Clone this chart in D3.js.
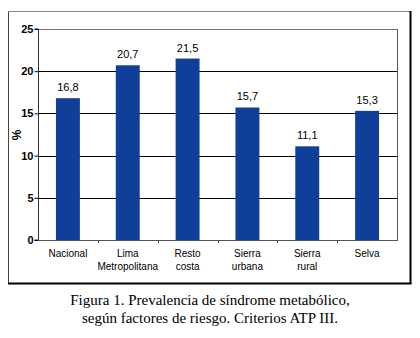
<!DOCTYPE html>
<html><head><meta charset="utf-8">
<script src="https://cdn.jsdelivr.net/npm/d3@7"></script>
<style>body{margin:0;background:#fff}svg{display:block}</style>
</head><body>
<svg id="c" width="420" height="338"></svg>
<script>
const categories = [["Nacional"],["Lima","Metropolitana"],["Resto","costa"],["Sierra","urbana"],["Sierra","rural"],["Selva"]];
const values = [16.8, 20.7, 21.5, 15.7, 11.1, 15.3];
const valueLabels = ["16,8","20,7","21,5","15,7","11,1","15,3"];
const yTicks = [0,5,10,15,20,25];
const caption = ["Figura 1. Prevalencia de síndrome metabólico,","según factores de riesgo. Criterios ATP III."];

const svg = d3.select("#c");
const L = 38, R = 397, T = 29, B = 240;
const x = d3.scaleBand().domain(d3.range(categories.length)).range([L, R]).paddingInner(0.6).paddingOuter(0.3);
const y = d3.scaleLinear().domain([0, 25]).range([B, T]);

// outer frame
svg.append("line").attr("x1",8.5).attr("x2",410).attr("y1",11.5).attr("y2",11.5).attr("stroke","#888");
svg.append("line").attr("x1",8.5).attr("x2",8.5).attr("y1",11.5).attr("y2",283).attr("stroke","#444");
svg.append("line").attr("x1",410.5).attr("x2",410.5).attr("y1",11).attr("y2",284).attr("stroke","#000").attr("stroke-width",2);
svg.append("line").attr("x1",8).attr("x2",411.5).attr("y1",283.5).attr("y2",283.5).attr("stroke","#000").attr("stroke-width",2);

// gridlines
svg.append("g").selectAll("line").data(yTicks.filter(d=>d>0)).join("line")
  .attr("x1",L).attr("x2",R).attr("y1",d=>Math.round(y(d))+0.5).attr("y2",d=>Math.round(y(d))+0.5)
  .attr("stroke",d=>d===25?"#777":"#000").attr("stroke-width",1);
// right border of plot
svg.append("line").attr("x1",R+0.5).attr("x2",R+0.5).attr("y1",T).attr("y2",B).attr("stroke","#555");

// bars
svg.append("g").selectAll("rect").data(values).join("rect")
  .attr("x",(d,i)=>x(i)).attr("width",x.bandwidth())
  .attr("y",d=>y(d)).attr("height",d=>B-y(d)).attr("fill","#0f3f98");

// value labels
svg.append("g").selectAll("text").data(values).join("text")
  .attr("x",(d,i)=>x(i)+x.bandwidth()/2).attr("y",d=>y(d)-7)
  .attr("text-anchor","middle").attr("font-family","Liberation Sans, Arial, sans-serif")
  .attr("font-size",11).attr("fill","#000").text((d,i)=>valueLabels[i]);

// y axis
const yAxis = d3.axisLeft(y).tickValues(yTicks).tickSize(4).tickFormat(d3.format("d"));
const gy = svg.append("g").attr("transform",`translate(${L+0.5},0)`).call(yAxis);
gy.select(".domain").attr("stroke","#333").attr("d",`M-4,${T}H0V${B}H-4`);
gy.selectAll(".tick line").attr("stroke","#000");
gy.selectAll(".tick text").attr("font-family","Liberation Sans, Arial, sans-serif").attr("font-size",11).attr("font-weight","bold").attr("fill","#000").attr("x",-5);

// x axis
const bandEdges = d3.range(categories.length+1).map(i=>L + i*(R-L)/categories.length);
svg.append("line").attr("x1",L).attr("x2",R+1).attr("y1",B+0.5).attr("y2",B+0.5).attr("stroke","#555");
svg.append("g").selectAll("line").data(bandEdges.slice(1,-1)).join("line")
  .attr("x1",d=>Math.round(d)+0.5).attr("x2",d=>Math.round(d)+0.5).attr("y1",B).attr("y2",B+3).attr("stroke","#444");

const xl = svg.append("g").selectAll("text").data(categories).join("text")
  .attr("x",(d,i)=>x(i)+x.bandwidth()/2).attr("y",257)
  .attr("text-anchor","middle").attr("font-family","Liberation Sans, Arial, sans-serif")
  .attr("font-size",10).attr("fill","#000");
xl.selectAll("tspan").data(d=>d).join("tspan")
  .attr("x",function(){return this.parentNode.getAttribute("x");})
  .attr("dy",(d,i)=>i===0?0:13).text(d=>d);

// y label
svg.append("text").attr("transform","translate(21,135) rotate(-90)")
  .attr("text-anchor","middle").attr("font-family","Liberation Sans, Arial, sans-serif")
  .attr("font-size",12).attr("font-weight","bold").text("%");

// caption
svg.append("g").selectAll("text").data(caption).join("text")
  .attr("x",210).attr("y",(d,i)=>305+i*18).attr("text-anchor","middle")
  .attr("font-family","Liberation Serif, Times New Roman, serif").attr("font-size",15)
  .attr("fill","#000").text(d=>d);
</script>
</body></html>
